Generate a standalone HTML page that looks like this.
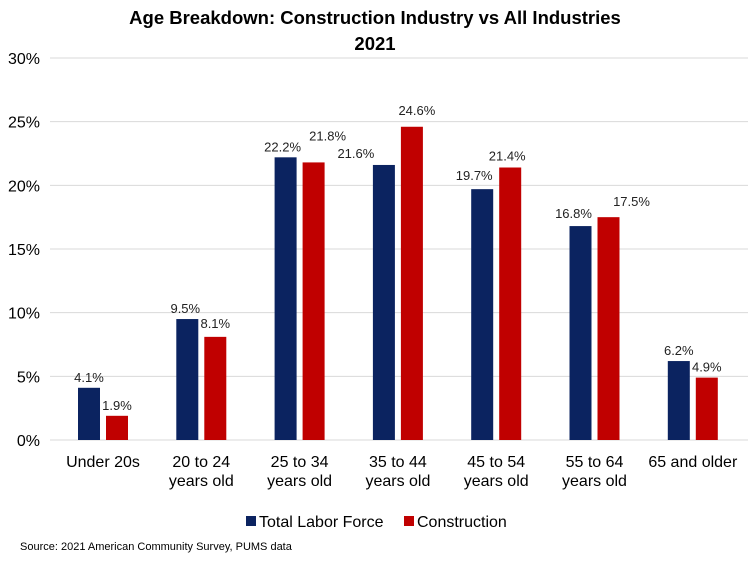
<!DOCTYPE html>
<html><head><meta charset="utf-8"><style>
body{margin:0;background:#fff;}
svg{display:block;font-family:"Liberation Sans",Arial,sans-serif;}
</style></head><body>
<svg id="chart" width="750" height="562" viewBox="0 0 750 562">
<text x="375" y="24" text-anchor="middle" font-size="18.5" font-weight="bold" fill="#000">Age Breakdown: Construction Industry vs All Industries</text>
<text x="375" y="50" text-anchor="middle" font-size="18.5" font-weight="bold" fill="#000">2021</text>
<g id="grid"></g><g id="bars"></g><g id="labels"></g><g id="xlabels"></g>
<g>
<rect x="246" y="516" width="10" height="10" fill="#0b2360"/>
<text x="259" y="527" font-size="16" fill="#000">Total Labor Force</text>
<rect x="404" y="516" width="10" height="10" fill="#c00000"/>
<text x="417" y="527" font-size="16" fill="#000">Construction</text>
</g>
<text x="20" y="550" font-size="11" fill="#000">Source: 2021 American Community Survey, PUMS data</text>
</svg>
<script>
const categories=[["Under 20s"],["20 to 24","years old"],["25 to 34","years old"],["35 to 44","years old"],["45 to 54","years old"],["55 to 64","years old"],["65 and older"]];
const totalLabor=[4.1,9.5,22.2,21.6,19.7,16.8,6.2];
const construction=[1.9,8.1,21.8,24.6,21.4,17.5,4.9];
const yTicks=[0,5,10,15,20,25,30];
const totalLabelNudge=[[0,0],[-2,0],[-3,0],[-28,-1],[-8,-3],[-7,-2],[0,0]];
const constLabelNudge=[[0,0],[0,-3],[14,-16],[5,-6],[-3,-1],[23,-5],[0,0]];
const NS="http://www.w3.org/2000/svg";
const y0=440,yPer=(440-58)/30;
const y=v=>y0-v*yPer;
const x=i=>78+98.3*i;
const bw=22,gap=6;
function mk(tag,attrs,parent){const e=document.createElementNS(NS,tag);for(const k in attrs)e.setAttribute(k,attrs[k]);parent.appendChild(e);return e;}
const grid=document.getElementById('grid'),bars=document.getElementById('bars'),labels=document.getElementById('labels'),xl=document.getElementById('xlabels');
yTicks.forEach(t=>{
 const l=mk('line',{x1:50,x2:748,y1:y(t),y2:y(t),stroke:'#d9d9d9','stroke-width':1},grid);
 
 
 const tx=mk('text',{x:40,y:y(t)+6,'text-anchor':'end','font-size':16,fill:'#000'},grid);
 tx.textContent=t+'%';
 
 
});
categories.forEach((c,i)=>{
 const series=[[totalLabor,'#0b2360','total',totalLabelNudge,0],[construction,'#c00000','construction',constLabelNudge,bw+gap]];
 series.forEach(([vals,col,nm,nudge,off])=>{
  const bx=x(i)+off,v=vals[i];
  const r=mk('rect',{x:bx,y:y(v),width:bw,height:y0-y(v),fill:col},bars);
  
  
  const t=mk('text',{x:bx+bw/2+nudge[i][0],y:y(v)-6+nudge[i][1],'text-anchor':'middle','font-size':13,fill:'#222'},labels);
  t.textContent=v.toFixed(1)+'%';
  
  
 });
 const cx=x(i)+bw+gap/2;
 c.forEach((line,j)=>{
  const t=mk('text',{x:cx,y:467+j*19,'text-anchor':'middle','font-size':16,fill:'#000'},xl);
  t.textContent=line;
  
  
 });
});
</script>
</body></html>
